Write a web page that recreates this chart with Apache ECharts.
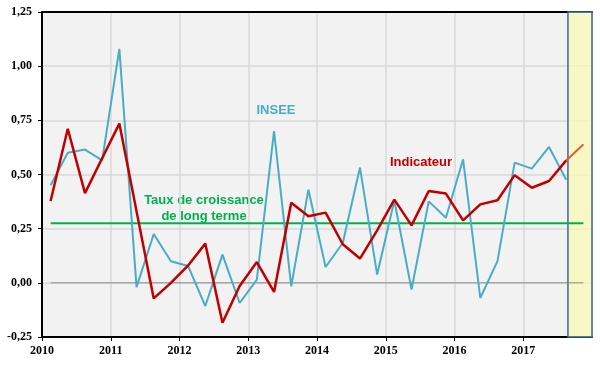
<!DOCTYPE html>
<html><head><meta charset="utf-8">
<script src="https://cdn.jsdelivr.net/npm/echarts@6/dist/echarts.min.js"></script>
<style>html,body{margin:0;padding:0;background:#fff}#c{width:600px;height:370px}</style>
</head><body><div id="c"></div>
<script>
// Quarterly GDP growth (%), Q1 2010 .. Q3/Q4 2017
const startYear = 2010;
const yearTicks = ['2010','2011','2012','2013','2014','2015','2016','2017'];
const insee = [0.45,0.60,0.615,0.565, 1.08,-0.02,0.225,0.10, 0.078,-0.107,0.13,-0.093,
  0.015,0.70,-0.016,0.43, 0.073,0.184,0.532,0.038, 0.38,-0.031,0.376,0.30,
  0.57,-0.07,0.10,0.555, 0.527,0.627,0.476];
const indicateur = [0.378,0.711,0.414,0.575, 0.735,0.33,-0.072,0.0, 0.08,0.181,-0.184,-0.015,
  0.096,-0.042,0.370,0.307, 0.324,0.178,0.112,0.242, 0.384,0.265,0.424,0.412,
  0.288,0.362,0.381,0.497, 0.439,0.470,0.565,0.639];
const longTermRate = 0.275;
const forecastWindow = [2017.65, 2018];

const qx = i => startYear + (i + 0.5) / 4;
const toPairs = arr => arr.map((v, i) => [qx(i), v]);
const nQ = indicateur.length;
const lastHist = nQ - 2;

const chart = echarts.init(document.getElementById('c'), null, {renderer: 'canvas'});
const serif = {fontFamily: 'Liberation Serif', fontWeight: 'bold', fontSize: 12, color: '#000'};
chart.setOption({
  animation: false,
  grid: {left: 42, right: 8, top: 12, bottom: 33, show: true, backgroundColor: '#f2f2f2', borderWidth: 0},
  xAxis: [{
    type: 'value', min: 2010, max: 2018, interval: 1,
    axisLine: {onZero: false, lineStyle: {color: '#000', width: 2}},
    axisTick: {show: true, length: 4, lineStyle: {color: '#000', width: 1}},
    axisLabel: Object.assign({margin: 8, showMaxLabel: false,
      formatter: v => yearTicks[Math.round(v - startYear)] || ''}, serif),
    splitLine: {show: true, lineStyle: {color: '#d9d9d9', width: 1.5}}
  }, {
    type: 'value', position: 'top', min: 2010, max: 2018,
    axisLine: {show: true, onZero: false, lineStyle: {color: '#000', width: 2}},
    axisTick: {show: false}, axisLabel: {show: false}, splitLine: {show: false}
  }],
  yAxis: {
    type: 'value', min: -0.25, max: 1.25, interval: 0.25,
    axisLine: {show: true, onZero: false, lineStyle: {color: '#000', width: 2}},
    axisTick: {show: true, length: 4, lineStyle: {color: '#000'}},
    axisLabel: Object.assign({margin: 10, formatter: v => v.toFixed(2).replace('.', ',')}, serif),
    splitLine: {lineStyle: {color: '#d9d9d9', width: 1.5}}
  },
  series: [
    {type: 'line', data: [[qx(0), 0], [qx(nQ - 1), 0]], symbol: 'none',
     lineStyle: {color: '#8c8c8c', width: 1},
     markArea: {silent: true,
       itemStyle: {color: 'rgba(250,249,177,0.72)', borderColor: '#3b66a0', borderWidth: 1.5},
       data: [[{xAxis: forecastWindow[0], yAxis: 1.25}, {xAxis: forecastWindow[1], yAxis: -0.25}]]}},
    {type: 'line', data: [[qx(0), longTermRate], [qx(nQ - 1), longTermRate]], symbol: 'none',
     lineStyle: {color: '#00b050', width: 2}},
    {type: 'line', data: toPairs(insee), symbol: 'none', lineStyle: {color: '#4bacc6', width: 2}},
    {type: 'line', data: toPairs(indicateur).slice(0, lastHist + 1), symbol: 'none',
     lineStyle: {color: '#c00000', width: 2.5}},
    {type: 'line', data: toPairs(indicateur).slice(lastHist), symbol: 'none',
     lineStyle: {color: '#e8552a', width: 2}}
  ],
  graphic: [
    {type: 'text', x: 276, y: 110, style: {text: 'INSEE', fill: '#4bacc6',
      font: 'bold 13px "Liberation Sans", Arial', align: 'center', verticalAlign: 'middle'}},
    {type: 'text', x: 421, y: 162, style: {text: 'Indicateur', fill: '#c00000',
      font: 'bold 13px "Liberation Sans", Arial', align: 'center', verticalAlign: 'middle'}},
    {type: 'text', x: 204, y: 208, style: {text: 'Taux de croissance\nde long terme', fill: '#00b050',
      font: 'bold 13px "Liberation Sans", Arial', align: 'center', verticalAlign: 'middle', lineHeight: 16}}
  ]
});
</script></body></html>
